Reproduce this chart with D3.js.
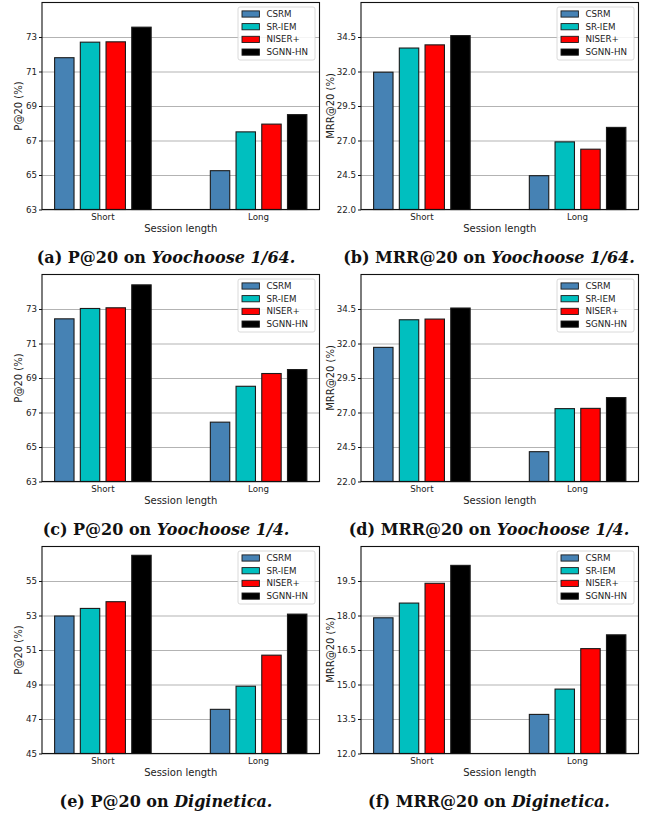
<!DOCTYPE html>
<html lang="en">
<head>
    <meta charset="UTF-8">
    <script src="https://cdn.jsdelivr.net/npm/d3@7"></script>
    <title>Session length results</title>
    <style>
        body {
            margin: 0;
            background: white;
        }

        text {
            font-family: "DejaVu Sans", sans-serif;
            fill: #222;
        }

        .caption {
            font-family: "DejaVu Serif", serif;
            font-weight: bold;
            fill: #111;
        }
    </style>
</head>
<body>
    <svg id="chart" width="650" height="818"></svg>

    <script>
        const methods = ["CSRM", "SR-IEM", "NISER+", "SGNN-HN"];
        const methodColors = ["#4682b4", "#00bfbf", "#ff0000", "#000000"];
        const groups = ["Short", "Long"];

        // bar values, [Short, Long], one number per method
        const yc64P20 = [[71.8, 72.7, 72.72, 73.57], [65.25, 67.5, 67.95, 68.5]];
        const yc64MRR = [[31.95, 33.7, 33.93, 34.6], [24.45, 26.9, 26.37, 27.95]];
        const yc4P20 = [[72.43, 73.03, 73.07, 74.4], [66.44, 68.52, 69.26, 69.49]];
        const yc4MRR = [[31.72, 33.72, 33.77, 34.57], [24.16, 27.28, 27.3, 28.08]];
        const digiP20 = [[52.97, 53.41, 53.8, 56.49], [47.56, 48.9, 50.7, 53.08]];
        const digiMRR = [[17.9, 18.54, 19.4, 20.18], [13.7, 14.8, 16.56, 17.16]];

        // y axis ranges and tick labels
        const yc64P20Ticks = [63, 65, 67, 69, 71, 73];
        const yc64MRRTicks = [22.0, 24.5, 27.0, 29.5, 32.0, 34.5];
        const yc4P20Ticks = [63, 65, 67, 69, 71, 73];
        const yc4MRRTicks = [22.0, 24.5, 27.0, 29.5, 32.0, 34.5];
        const digiP20Ticks = [45, 47, 49, 51, 53, 55];
        const digiMRRTicks = [12.0, 13.5, 15.0, 16.5, 18.0, 19.5];
        const yDomains = [[63, 75], [22, 37], [63, 75], [22, 37], [45, 57], [12, 21]];

        const captionLetters = ["(a)", "(b)", "(c)", "(d)", "(e)", "(f)"];
        const metricNames = ["P@20", "MRR@20", "P@20", "MRR@20", "P@20", "MRR@20"];
        const datasetNames = ["Yoochoose 1/64.", "Yoochoose 1/64.", "Yoochoose 1/4.", "Yoochoose 1/4.", "Diginetica.", "Diginetica."];

        const panelValues = [yc64P20, yc64MRR, yc4P20, yc4MRR, digiP20, digiMRR];
        const panelTicks = [yc64P20Ticks, yc64MRRTicks, yc4P20Ticks, yc4MRRTicks, digiP20Ticks, digiMRRTicks];

        const svg = d3.select("#chart");

        // layout of the 3x2 grid
        const colLeft = [42, 361];
        const rowTop = [2.5, 274.5, 546.5];
        const axW = 277.5;
        const axH = 207;
        const ylabelX = [18, 330];
        const captionX = [166, 489];

        const drawPanel = (i) => {
            const col = i % 2, row = Math.floor(i / 2);
            const left = colLeft[col], top = rowTop[row];
            const bottom = top + axH;
            const pad = axW * 0.05 / 1.1;
            const values = panelValues[i];
            const ticks = panelTicks[i];
            const fmt = col === 0 ? d3.format("d") : d3.format(".1f");

            const g = svg.append("g");

            const x0 = d3.scaleBand().domain(groups)
                .range([left + pad, left + axW - pad])
                .paddingInner(0.38);
            const x1 = d3.scaleBand().domain(methods)
                .range([0, x0.bandwidth()])
                .paddingInner(0.245);
            const y = d3.scaleLinear().domain(yDomains[i]).range([bottom, top]);

            // grid behind the bars
            const grid = g.append("g")
                .attr("transform", `translate(${left},0)`)
                .call(d3.axisLeft(y).tickValues(ticks).tickSize(-axW).tickFormat(""));
            grid.select(".domain").remove();
            grid.selectAll("line").attr("stroke", "#b3b3b3").attr("stroke-width", 1.2);

            // bars
            groups.forEach((grp, gi) => {
                g.selectAll(null)
                    .data(values[gi])
                    .enter()
                    .append("rect")
                    .attr("x", (d, mi) => x0(grp) + x1(methods[mi]))
                    .attr("y", d => y(d))
                    .attr("width", x1.bandwidth())
                    .attr("height", d => bottom - y(d))
                    .attr("fill", (d, mi) => methodColors[mi])
                    .attr("stroke", "#1a1a1a")
                    .attr("stroke-width", 1.1);
            });

            // frame
            g.append("rect")
                .attr("x", left).attr("y", top)
                .attr("width", axW).attr("height", axH)
                .attr("fill", "none")
                .attr("stroke", "#111")
                .attr("stroke-width", 1.1);

            // y axis
            const yAxis = g.append("g")
                .attr("transform", `translate(${left},0)`)
                .call(d3.axisLeft(y).tickValues(ticks).tickSize(3).tickPadding(2).tickFormat(fmt));
            yAxis.select(".domain").remove();
            yAxis.selectAll("line").attr("stroke", "#111");
            yAxis.selectAll("text").style("font-size", "8.7px").attr("fill", "#222");

            // x axis
            const xAxis = g.append("g")
                .attr("transform", `translate(0,${bottom})`)
                .call(d3.axisBottom(x0).tickSize(0).tickPadding(4));
            xAxis.select(".domain").remove();
            xAxis.selectAll("text").style("font-size", "8.7px").attr("fill", "#222");

            g.append("text")
                .attr("x", left + axW / 2)
                .attr("y", bottom + 22.5)
                .attr("text-anchor", "middle")
                .style("font-size", "10px")
                .text("Session length");

            g.append("text")
                .attr("transform", `translate(${ylabelX[col]},${top + axH / 2}) rotate(-90)`)
                .attr("text-anchor", "middle")
                .attr("dominant-baseline", "central")
                .style("font-size", "10px")
                .text(`${metricNames[i]} (%)`);

            // legend
            const legW = 77, legH = 53;
            const legX = left + axW - 4.5 - legW, legY = top + 4.5;
            const leg = g.append("g").attr("transform", `translate(${legX},${legY})`);
            leg.append("rect")
                .attr("width", legW).attr("height", legH)
                .attr("rx", 2)
                .attr("fill", "white").attr("fill-opacity", 0.85)
                .attr("stroke", "#d0d0d0").attr("stroke-width", 0.8);
            methods.forEach((m, mi) => {
                const cy = 7 + mi * 12.7;
                leg.append("rect")
                    .attr("x", 4).attr("y", cy - 3.1)
                    .attr("width", 17.4).attr("height", 6.2)
                    .attr("fill", methodColors[mi])
                    .attr("stroke", "#1a1a1a").attr("stroke-width", 0.9);
                leg.append("text")
                    .attr("x", 28.5).attr("y", cy)
                    .attr("dominant-baseline", "central")
                    .style("font-size", "8.7px")
                    .text(m);
            });

            // caption
            const cap = svg.append("text")
                .attr("class", "caption")
                .attr("x", captionX[col])
                .attr("y", bottom + 53)
                .attr("text-anchor", "middle")
                .style("font-size", "16px");
            cap.append("tspan").text(`${captionLetters[i]} ${metricNames[i]} on `);
            cap.append("tspan").style("font-style", "italic").text(datasetNames[i]);
        };

        panelValues.forEach((v, i) => drawPanel(i));
    </script>
</body>
</html>
